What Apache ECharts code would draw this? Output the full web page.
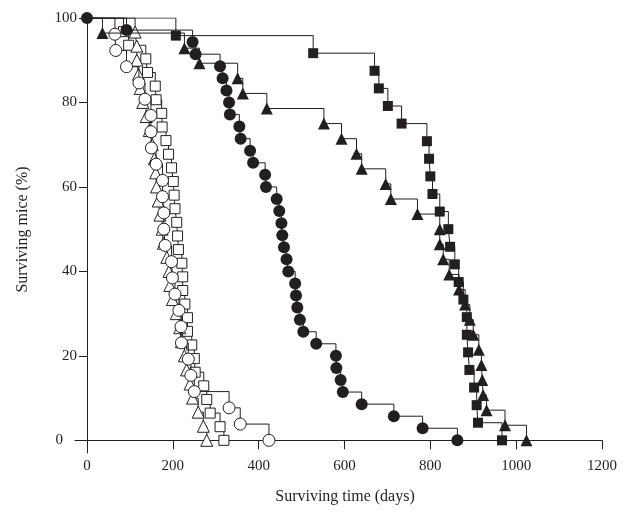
<!DOCTYPE html>
<html><head><meta charset="utf-8">
<script src="https://cdn.jsdelivr.net/npm/echarts@6/dist/echarts.min.js"></script>
<style>html,body{margin:0;padding:0;background:#fff}#c{width:623px;height:512px}</style>
</head><body><div id="c"></div>
<script>
// Kaplan-Meier data (days, survival %)
var filledSquareDays = [0,207,527,670,680,701,733,792,797,800,805,822,842,846,857,866,877,885,885,888,891,902,908,911,967];
var filledSquareSurv = [100,95.83,91.67,87.5,83.33,79.17,75,70.83,66.67,62.5,58.33,54.17,50,45.83,41.67,37.5,33.33,29.17,25,20.83,16.67,12.5,8.33,4.17,0];

var filledTriangleDays = [0,36,227,262,351,363,419,552,593,628,640,696,708,770,822,822,830,844,867,881,892,900,913,919,921,923,931,974,1024];
var filledTriangleSurv = [100,96.43,92.86,89.29,85.71,82.14,78.57,75,71.43,67.86,64.29,60.71,57.14,53.57,50,46.43,42.86,39.29,35.71,32.14,28.57,25,21.43,17.86,14.29,10.71,7.14,3.57,0];

var filledCircleDays = [0,92,246,253,310,316,325,331,333,355,358,380,387,415,417,442,448,453,455,459,465,469,485,487,490,496,504,534,580,581,591,596,640,715,782,863];
var filledCircleSurv = [100,97.14,94.29,91.43,88.57,85.71,82.86,80,77.14,74.29,71.43,68.57,65.71,62.86,60,57.14,54.29,51.43,48.57,45.71,42.86,40,37.14,34.29,31.43,28.57,25.71,22.86,20,17.14,14.29,11.43,8.57,5.71,2.86,0];

var openSquareDays = [0,85,97,137,141,159,161,174,175,184,190,197,201,203,205,209,211,213,221,223,223,228,234,234,244,250,252,272,279,287,310,319];
var openSquareSurv = [100,96.77,93.55,90.32,87.1,83.87,80.65,77.42,74.19,70.97,67.74,64.52,61.29,58.06,54.84,51.61,48.39,45.16,41.94,38.71,35.48,32.26,29.03,25.81,22.58,19.35,16.13,12.9,9.68,6.45,3.23,0];

var openTriangleDays = [0,112,116,116,120,124,130,138,145,152,157,160,162,166,170,175,178,186,191,193,199,208,216,220,227,232,240,246,259,271,279];
var openTriangleSurv = [100,96.67,93.33,90,86.67,83.33,80,76.67,73.33,70,66.67,63.33,60,56.67,53.33,50,46.67,43.33,40,36.67,33.33,30,26.67,23.33,20,16.67,13.33,10,6.67,3.33,0];

var openCircleDays = [0,65,67,92,121,135,149,149,150,161,176,176,179,179,182,197,199,205,214,219,220,236,242,250,331,357,424];
var openCircleSurv = [100,96.15,92.31,88.46,84.62,80.77,76.92,73.08,69.23,65.38,61.54,57.69,53.85,50,46.15,42.31,38.46,34.62,30.77,26.92,23.08,19.23,15.38,11.54,7.69,3.85,0];

var xTicks = [0,200,400,600,800,1000,1200];
var yTicks = [0,20,40,60,80,100];
// axes overshoot the origin a little, as in the reference
var xAxisStart = -28;
var yAxisStart = -3;

var INK = '#231f20';
var FONT = 'Liberation Serif';

function pts(days, surv, hideFirst) {
  return days.map(function (d, i) {
    var it = { value: [d, surv[i]] };
    if (i === 0 && hideFirst) it.symbol = 'none';
    return it;
  });
}
function km(name, days, surv, symbol, size, filled, hideFirst, z) {
  return {
    name: name, type: 'line', step: 'end', z: z,
    data: pts(days, surv, hideFirst),
    symbol: symbol, symbolSize: size, showAllSymbol: true,
    lineStyle: { color: INK, width: 1 },
    itemStyle: { color: filled ? INK : '#ffffff', borderColor: INK, borderWidth: filled ? 0 : 1 },
    emphasis: { disabled: true },
    animation: false
  };
}

var chart = echarts.init(document.getElementById('c'), null, { renderer: 'canvas' });
chart.setOption({
  animation: false,
  backgroundColor: '#ffffff',
  grid: { left: 75, right: 21, top: 18, bottom: 59, containLabel: false, outerBoundsMode: 'none' },
  xAxis: {
    type: 'value', min: xAxisStart, max: xTicks[xTicks.length - 1],
    name: 'Surviving time (days)', nameLocation: 'middle', nameGap: 36,
    nameTextStyle: { fontFamily: FONT, fontSize: 16, color: INK, padding: [0, 0, 0, 13] },
    axisLine: { show: true, onZero: true, lineStyle: { color: INK, width: 1 } },
    axisTick: { show: true, inside: false, length: 9, customValues: xTicks, lineStyle: { color: INK } },
    axisLabel: { margin: 6, fontFamily: FONT, fontSize: 15, color: INK, customValues: xTicks,
      formatter: function (v) { return String(v); } },
    splitLine: { show: false }
  },
  yAxis: {
    type: 'value', min: yAxisStart, max: yTicks[yTicks.length - 1],
    name: 'Surviving mice (%)', nameLocation: 'middle', nameGap: 44, nameRotate: 90,
    nameTextStyle: { fontFamily: FONT, fontSize: 16, color: INK, padding: [0, 0, 0, 12] },
    axisLine: { show: true, onZero: true, lineStyle: { color: INK, width: 1 } },
    axisTick: { show: true, inside: false, length: 8, customValues: yTicks, lineStyle: { color: INK } },
    axisLabel: { margin: -2, fontFamily: FONT, fontSize: 15, color: INK, customValues: yTicks,
      formatter: function (v) { return v === 0 ? '{z|0}' : String(v); },
      rich: { z: { fontFamily: FONT, fontSize: 15, color: INK, padding: [0, 14, 0, 0] } } },
    splitLine: { show: false }
  },
  series: [
    km('open square', openSquareDays, openSquareSurv, 'rect', 10, false, true, 2),
    km('open triangle', openTriangleDays, openTriangleSurv, 'triangle', 12, false, true, 3),
    km('open circle', openCircleDays, openCircleSurv, 'circle', 12, false, true, 4),
    km('filled square', filledSquareDays, filledSquareSurv, 'rect', 10, true, true, 5),
    km('filled triangle', filledTriangleDays, filledTriangleSurv, 'triangle', 12, true, true, 6),
    km('filled circle', filledCircleDays, filledCircleSurv, 'circle', 12, true, false, 7)
  ]
});
</script></body></html>
